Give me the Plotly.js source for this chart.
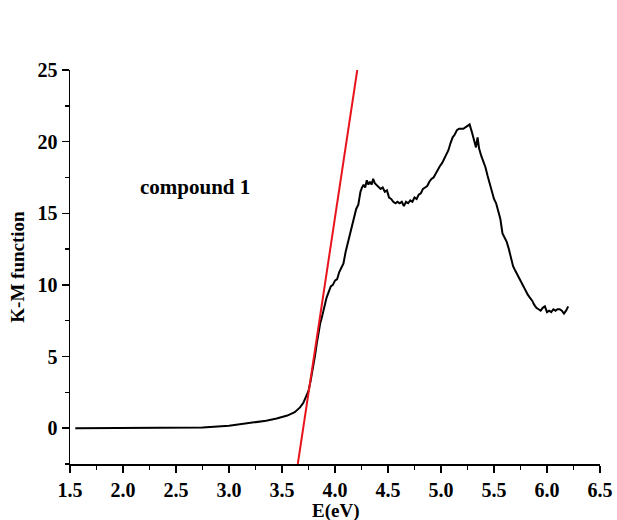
<!DOCTYPE html>
<html>
<head>
<meta charset="utf-8">
<script src="https://cdn.plot.ly/plotly-3.0.1.min.js"></script>
<style>html,body{margin:0;padding:0;background:#fff;}#chart{width:617px;height:520px;}</style>
</head>
<body>
<div id="chart"></div>
<script>
var energy = [1.55, 2.0, 2.5, 2.75, 3.0, 3.2, 3.35, 3.45, 3.55, 3.62, 3.67, 3.70, 3.73, 3.75, 3.77, 3.79, 3.81, 3.83, 3.845, 3.86, 3.875, 3.89, 3.905, 3.92, 3.94, 3.96, 3.98, 4.00, 4.02, 4.04, 4.06, 4.08, 4.10, 4.12, 4.14, 4.16, 4.18, 4.20, 4.22, 4.24, 4.255, 4.27, 4.285, 4.30, 4.315, 4.33, 4.345, 4.36, 4.375, 4.39, 4.41, 4.43, 4.45, 4.47, 4.49, 4.51, 4.53, 4.55, 4.57, 4.59, 4.61, 4.63, 4.65, 4.67, 4.69, 4.71, 4.73, 4.75, 4.77, 4.79, 4.81, 4.83, 4.85, 4.87, 4.89, 4.91, 4.93, 4.95, 4.97, 4.99, 5.01, 5.03, 5.05, 5.07, 5.09, 5.11, 5.13, 5.15, 5.17, 5.19, 5.21, 5.23, 5.25, 5.27, 5.29, 5.31, 5.33, 5.345, 5.36, 5.38, 5.40, 5.42, 5.44, 5.46, 5.48, 5.50, 5.52, 5.54, 5.56, 5.58, 5.60, 5.62, 5.64, 5.66, 5.68, 5.70, 5.72, 5.74, 5.76, 5.78, 5.80, 5.82, 5.84, 5.86, 5.88, 5.90, 5.92, 5.94, 5.96, 5.98, 6.00, 6.02, 6.04, 6.06, 6.08, 6.10, 6.12, 6.14, 6.16, 6.18, 6.20];
var kmValues = [0, 0, 0.01, 0.05, 0.17, 0.35, 0.52, 0.68, 0.88, 1.12, 1.45, 1.75, 2.2, 2.6, 3.3, 4.1, 5.0, 6.0, 6.7, 7.3, 7.7, 8.2, 8.7, 9.1, 9.5, 9.9, 10.0, 10.3, 10.4, 10.9, 11.2, 11.5, 12.3, 12.9, 13.6, 14.1, 14.8, 15.3, 15.6, 16.5, 16.8, 17.0, 16.8, 17.3, 17.0, 17.2, 17.0, 17.4, 17.1, 17.0, 16.9, 16.7, 16.8, 16.5, 16.6, 16.1, 16.0, 15.8, 15.7, 15.8, 15.7, 15.8, 15.5, 15.8, 15.7, 15.9, 15.8, 16.1, 16.0, 16.3, 16.4, 16.7, 16.8, 16.9, 17.2, 17.4, 17.5, 17.8, 18.0, 18.3, 18.5, 18.8, 19.2, 19.4, 19.9, 20.3, 20.5, 20.8, 20.9, 20.9, 20.9, 21.0, 21.1, 21.2, 20.7, 20.2, 19.6, 20.3, 19.5, 19.0, 18.6, 18.2, 17.6, 17.0, 16.4, 16.0, 15.7, 15.1, 14.6, 13.6, 13.3, 13.0, 12.5, 11.8, 11.3, 11.0, 10.7, 10.4, 10.1, 9.8, 9.5, 9.3, 9.1, 8.9, 8.6, 8.4, 8.3, 8.2, 8.4, 8.5, 8.1, 8.2, 8.1, 8.3, 8.2, 8.3, 8.3, 8.2, 8.0, 8.2, 8.5];
var fitEnergy = [3.649, 4.21];
var fitValues = [-2.5, 25];
var xTicks = [1.5, 2.0, 2.5, 3.0, 3.5, 4.0, 4.5, 5.0, 5.5, 6.0, 6.5];
var yTicks = [0, 5, 10, 15, 20, 25];

var fontFam = '"Liberation Serif", "Times New Roman", serif';
var traces = [
  {x: energy, y: kmValues, type: 'scatter', mode: 'lines', line: {color: '#000000', width: 2}, hoverinfo: 'none'},
  {x: fitEnergy, y: fitValues, type: 'scatter', mode: 'lines', line: {color: '#e8141c', width: 2}, hoverinfo: 'none'}
];
var layout = {
  width: 617, height: 520,
  margin: {l: 70, r: 17, t: 70, b: 56},
  paper_bgcolor: '#ffffff', plot_bgcolor: '#ffffff',
  showlegend: false,
  font: {family: fontFam, color: '#000', size: 20},
  xaxis: {
    range: [1.5, 6.5], tickvals: xTicks, ticktext: xTicks.map(function(v){return v.toFixed(1);}),
    ticks: 'outside', ticklen: 7, tickwidth: 1.5, tickcolor: '#000',
    showline: true, linecolor: '#000', linewidth: 1.5, showgrid: false, zeroline: false,
    tickfont: {family: fontFam, size: 20, weight: 'bold'},
    minor: {dtick: 0.25, tick0: 1.5, ticks: 'outside', ticklen: 4, tickwidth: 1.5, tickcolor: '#000', showgrid: false}
  },
  yaxis: {
    range: [-2.5, 25], tickvals: yTicks,
    ticks: 'outside', ticklen: 7, tickwidth: 1.5, tickcolor: '#000',
    showline: true, linecolor: '#000', linewidth: 1.5, showgrid: false, zeroline: false,
    tickfont: {family: fontFam, size: 20, weight: 'bold'},
    minor: {dtick: 2.5, tick0: 0, ticks: 'outside', ticklen: 4, tickwidth: 1.5, tickcolor: '#000', showgrid: false},
    title: {text: '<b>K-M function</b>', font: {family: fontFam, size: 19}, standoff: 8}
  },
  annotations: [
    {x: 2.68, y: 16.8, xref: 'x', yref: 'y', text: '<b>compound 1</b>', showarrow: false,
     font: {family: fontFam, size: 21, color: '#000'}},
    {x: 0.5, y: -0.12, xref: 'paper', yref: 'paper', xanchor: 'center', yanchor: 'middle',
     text: '<b>E(eV)</b>', showarrow: false, font: {family: fontFam, size: 19, color: '#000'}}
  ]
};
Plotly.newPlot('chart', traces, layout, {staticPlot: true, displayModeBar: false});
</script>
</body>
</html>
